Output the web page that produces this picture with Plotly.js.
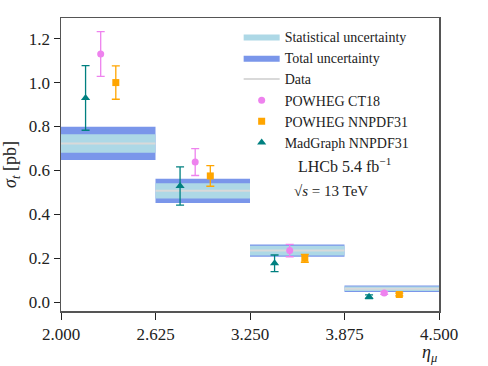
<!DOCTYPE html>
<html>
<head>
<meta charset="utf-8">
<script src="https://cdn.plot.ly/plotly-3.0.1.min.js"></script>
<style>
  html, body { margin: 0; padding: 0; background: #fff; }
  #myDiv { width: 488px; height: 366px; }
</style>
</head>
<body>
<div id="myDiv"></div>
<script>
// eta_mu bins
var binEdges = [2.0, 2.625, 3.25, 3.875, 4.5];
var tickLabels = ["2.000", "2.625", "3.250", "3.875", "4.500"];

// measured sigma_t [pb]
var dataVal = [0.723, 0.507, 0.235, 0.061];
var statErr = [0.042, 0.035, 0.022, 0.0105];
var totalErr = [0.076, 0.055, 0.028, 0.015];

// predictions
var ct18Val = [1.13, 0.638, 0.235, 0.042];
var ct18Err = [0.102, 0.061, 0.028, 0.006];
var nnpdfVal = [1.0, 0.575, 0.200, 0.035];
var nnpdfErr = [0.076, 0.047, 0.018, 0.006];
var mgVal = [0.93, 0.529, 0.177, 0.025];
var mgErr = [0.147, 0.087, 0.038, 0.008];

var yTicks = [0, 0.2, 0.4, 0.6, 0.8, 1.0, 1.2];
var yTickLabels = ["0.0", "0.2", "0.4", "0.6", "0.8", "1.0", "1.2"];

var centers = [];
for (var i = 0; i < dataVal.length; i++) {
  centers.push((binEdges[i] + binEdges[i + 1]) / 2);
}

function band(errs) {
  var x = [], y = [];
  for (var i = 0; i < dataVal.length; i++) {
    var lo = dataVal[i] - errs[i], hi = dataVal[i] + errs[i];
    x.push(binEdges[i], binEdges[i + 1], binEdges[i + 1], binEdges[i], binEdges[i], null);
    y.push(lo, lo, hi, hi, lo, null);
  }
  return { x: x, y: y };
}

var tot = band(totalErr);
var st = band(statErr);

var lineX = [], lineY = [];
for (var i = 0; i < dataVal.length; i++) {
  lineX.push(binEdges[i], binEdges[i + 1], null);
  lineY.push(dataVal[i], dataVal[i], null);
}

function shifted(d) {
  return centers.map(function (c) { return c + d; });
}

var traces = [
  {
    x: tot.x, y: tot.y, mode: "lines", fill: "toself",
    fillcolor: "rgba(65,105,225,0.7)", line: { width: 0 },
    name: "Total uncertainty", legendrank: 2, hoverinfo: "skip"
  },
  {
    x: st.x, y: st.y, mode: "lines", fill: "toself",
    fillcolor: "#add8e6", line: { width: 0 },
    name: "Statistical uncertainty", legendrank: 1, hoverinfo: "skip"
  },
  {
    x: lineX, y: lineY, mode: "lines",
    line: { color: "#d9d9d9", width: 2 },
    name: "Data", legendrank: 3
  },
  {
    x: shifted(-0.05), y: ct18Val, mode: "markers",
    marker: { color: "violet", symbol: "circle", size: 7 },
    error_y: { type: "data", array: ct18Err, color: "violet", thickness: 1.3, width: 4 },
    name: "POWHEG CT18", legendrank: 4
  },
  {
    x: shifted(0.05), y: nnpdfVal, mode: "markers",
    marker: { color: "orange", symbol: "square", size: 7 },
    error_y: { type: "data", array: nnpdfErr, color: "orange", thickness: 1.3, width: 4 },
    name: "POWHEG NNPDF31", legendrank: 5
  },
  {
    x: shifted(-0.15), y: mgVal, mode: "markers",
    marker: { color: "teal", symbol: "triangle-up", size: 8 },
    error_y: { type: "data", array: mgErr, color: "teal", thickness: 1.3, width: 4 },
    name: "MadGraph NNPDF31", legendrank: 6
  }
];

var serif = '"Liberation Serif", "Times New Roman", serif';

var layout = {
  width: 488, height: 366,
  margin: { l: 61, r: 49, t: 18, b: 55 },
  paper_bgcolor: "#fff", plot_bgcolor: "#fff",
  font: { family: serif, size: 17, color: "#222" },
  showlegend: true,
  legend: {
    x: 0.47, y: 0.99, xanchor: "left", yanchor: "top",
    bgcolor: "rgba(255,255,255,0)", font: { family: serif, size: 14, color: "#222" },
    itemwidth: 36
  },
  xaxis: {
    range: [2.0, 4.5], tickvals: binEdges, ticktext: tickLabels,
    ticks: "outside", ticklen: 7, tickcolor: "#222",
    tickfont: { family: serif, size: 17 },
    showgrid: false, zeroline: false,
    showline: true, linecolor: "#555", linewidth: 1.5, mirror: true
  },
  yaxis: {
    range: [-0.04, 1.294], tickvals: yTicks, ticktext: yTickLabels,
    ticks: "outside", ticklen: 6, tickcolor: "#222",
    tickfont: { family: serif, size: 17 },
    showgrid: false, zeroline: false,
    showline: true, linecolor: "#555", linewidth: 1.5, mirror: true,
    title: { text: "<i>σ</i><sub><i>t</i></sub> [pb]", font: { family: serif, size: 18 }, standoff: 10 }
  },
  annotations: [
    {
      xref: "paper", yref: "paper", x: 0.622, y: 0.498, xanchor: "left", yanchor: "middle",
      text: "LHCb 5.4 fb<sup>−1</sup>", showarrow: false, font: { family: serif, size: 16 }
    },
    {
      xref: "paper", yref: "paper", x: 0.612, y: 0.411, xanchor: "left", yanchor: "middle",
      text: "√<i>s</i> = 13 TeV", showarrow: false, font: { family: serif, size: 15 }
    },
    {
      xref: "paper", yref: "paper", x: 1.0, y: -0.145, xanchor: "right", yanchor: "middle",
      text: "<i>η</i><sub><i>μ</i></sub>", showarrow: false, font: { family: serif, size: 18 }
    }
  ]
};

Plotly.newPlot("myDiv", traces, layout, { displayModeBar: false, staticPlot: true });
</script>
</body>
</html>
